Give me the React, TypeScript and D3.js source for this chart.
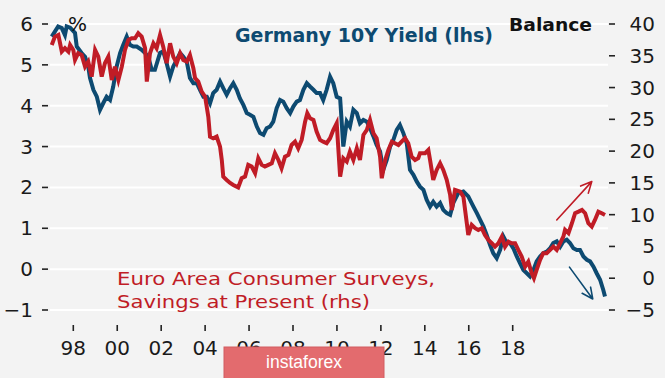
import React from "react";
import * as d3 from "d3";

// Germany 10Y yield (%), left axis
const germanyYield: [number, number][] = [
  [1997.03,5.69],[1997.29,5.94],[1997.44,5.90],[1997.57,5.73],[1997.64,5.94],[1997.78,5.91],[1997.98,5.78],[1998.05,5.45],[1998.25,5.29],[1998.39,5.20],[1998.52,4.96],[1998.59,4.68],[1998.73,4.39],[1998.87,4.22],[1999.00,3.90],[1999.13,4.06],[1999.27,4.22],[1999.41,4.14],[1999.54,4.47],[1999.68,4.96],[1999.82,5.29],[1999.95,5.49],[2000.09,5.69],[2000.22,5.49],[2000.36,5.45],[2000.50,5.45],[2000.70,5.37],[2000.84,5.29],[2000.97,5.20],[2001.11,4.88],[2001.24,4.88],[2001.45,5.29],[2001.58,5.33],[2001.72,5.04],[2001.86,4.71],[2001.99,4.96],[2002.13,5.12],[2002.27,5.29],[2002.40,5.20],[2002.54,5.08],[2002.67,4.68],[2002.81,4.55],[2002.95,4.55],[2003.08,4.39],[2003.22,4.22],[2003.36,4.22],[2003.49,4.06],[2003.62,4.31],[2003.76,4.39],[2003.90,4.59],[2004.03,4.43],[2004.17,4.27],[2004.31,4.43],[2004.44,4.55],[2004.58,4.39],[2004.71,4.18],[2004.85,4.02],[2004.99,3.82],[2005.12,3.78],[2005.26,3.73],[2005.40,3.49],[2005.53,3.33],[2005.67,3.29],[2005.80,3.45],[2005.94,3.49],[2006.07,3.61],[2006.21,3.94],[2006.35,4.14],[2006.48,4.10],[2006.62,3.94],[2006.76,3.82],[2006.89,3.98],[2007.03,4.10],[2007.16,4.14],[2007.30,4.39],[2007.44,4.55],[2007.57,4.47],[2007.71,4.39],[2007.84,4.31],[2007.98,4.31],[2008.11,4.14],[2008.25,4.39],[2008.39,4.71],[2008.52,4.55],[2008.66,4.22],[2008.80,4.18],[2008.93,3.00],[2009.07,3.61],[2009.20,3.49],[2009.34,3.90],[2009.48,3.82],[2009.61,3.57],[2009.75,3.65],[2009.89,3.61],[2010.02,3.45],[2010.16,3.25],[2010.29,3.04],[2010.43,2.88],[2010.56,2.43],[2010.70,2.67],[2010.84,3.00],[2010.97,3.16],[2011.11,3.41],[2011.24,3.53],[2011.38,3.33],[2011.52,3.08],[2011.65,2.43],[2011.79,2.31],[2011.93,2.14],[2012.06,2.02],[2012.20,1.94],[2012.33,1.70],[2012.47,1.53],[2012.60,1.65],[2012.74,1.53],[2012.88,1.62],[2013.01,1.45],[2013.15,1.37],[2013.29,1.33],[2013.42,1.62],[2013.62,1.86],[2013.83,1.90],[2014.03,1.78],[2014.24,1.53],[2014.38,1.37],[2014.51,1.21],[2014.65,1.04],[2014.78,0.84],[2014.92,0.59],[2015.05,0.39],[2015.19,0.27],[2015.33,0.47],[2015.46,0.80],[2015.60,0.64],[2015.73,0.64],[2015.87,0.51],[2016.01,0.31],[2016.14,0.15],[2016.28,-0.02],[2016.42,-0.10],[2016.55,-0.18],[2016.69,-0.02],[2016.82,0.19],[2016.96,0.31],[2017.09,0.39],[2017.23,0.43],[2017.37,0.51],[2017.50,0.64],[2017.64,0.68],[2017.78,0.55],[2017.91,0.68],[2018.05,0.72],[2018.18,0.64],[2018.32,0.51],[2018.46,0.47],[2018.59,0.47],[2018.73,0.31],[2018.87,0.23],[2019.00,0.19],[2019.14,0.06],[2019.27,-0.10],[2019.41,-0.26],[2019.54,-0.51],[2019.61,-0.67],
];

// Euro Area Consumer Surveys, Savings at Present (balance), right axis
const savingsBalance: [number, number][] = [
  [1997.03,36.71],[1997.16,38.01],[1997.30,38.28],[1997.37,36.97],[1997.44,35.65],[1997.57,36.19],[1997.71,35.65],[1997.78,36.71],[1997.91,35.92],[1997.98,34.35],[1998.11,35.40],[1998.25,35.13],[1998.39,33.29],[1998.52,34.08],[1998.66,31.72],[1998.80,35.92],[1998.93,34.86],[1999.07,31.72],[1999.20,33.83],[1999.34,34.86],[1999.48,31.20],[1999.61,33.29],[1999.75,31.20],[1999.89,33.29],[2000.02,35.92],[2000.16,37.49],[2000.29,37.76],[2000.43,37.76],[2000.56,38.55],[2000.70,38.01],[2000.84,36.19],[2000.91,30.93],[2001.04,35.40],[2001.18,36.97],[2001.31,36.19],[2001.45,38.28],[2001.58,36.44],[2001.72,33.83],[2001.86,36.97],[2001.99,34.86],[2002.13,33.83],[2002.27,35.40],[2002.40,34.35],[2002.54,34.08],[2002.67,35.13],[2002.81,33.04],[2002.88,31.47],[2003.01,30.93],[2003.15,29.36],[2003.29,28.57],[2003.42,25.42],[2003.49,22.28],[2003.62,22.03],[2003.76,22.28],[2003.90,20.70],[2003.97,18.61],[2004.03,15.98],[2004.17,15.47],[2004.31,14.99],[2004.44,14.68],[2004.64,14.29],[2004.78,15.73],[2004.92,15.98],[2005.05,17.83],[2005.19,17.56],[2005.33,16.52],[2005.46,18.88],[2005.60,17.83],[2005.73,17.56],[2005.87,17.83],[2006.01,18.09],[2006.14,19.67],[2006.28,18.61],[2006.41,17.31],[2006.55,19.13],[2006.69,19.40],[2006.82,20.97],[2006.96,21.49],[2007.09,20.45],[2007.23,21.76],[2007.37,24.64],[2007.46,25.96],[2007.57,25.17],[2007.71,24.91],[2007.84,23.07],[2007.98,21.76],[2008.11,21.49],[2008.25,21.24],[2008.39,22.03],[2008.52,23.33],[2008.66,24.39],[2008.80,15.98],[2008.93,18.88],[2009.07,18.35],[2009.20,19.92],[2009.34,18.61],[2009.48,20.45],[2009.61,18.61],[2009.75,22.55],[2009.89,23.33],[2010.02,24.91],[2010.16,22.81],[2010.29,22.03],[2010.43,19.13],[2010.50,15.73],[2010.64,18.61],[2010.77,20.19],[2010.91,21.49],[2011.04,21.24],[2011.18,20.97],[2011.31,21.49],[2011.45,22.03],[2011.58,21.24],[2011.72,19.13],[2011.86,18.61],[2011.99,18.88],[2012.06,19.67],[2012.27,19.67],[2012.40,20.19],[2012.47,18.61],[2012.60,15.47],[2012.74,17.04],[2012.88,18.09],[2013.01,17.04],[2013.15,15.47],[2013.29,13.11],[2013.36,10.75],[2013.49,13.89],[2013.70,13.62],[2013.83,12.84],[2013.97,8.65],[2014.03,6.81],[2014.17,8.39],[2014.31,7.87],[2014.44,7.60],[2014.58,7.87],[2014.71,6.81],[2014.85,6.03],[2014.99,5.51],[2015.12,4.97],[2015.26,5.51],[2015.40,6.54],[2015.53,4.97],[2015.67,5.76],[2015.80,5.51],[2015.94,5.51],[2016.07,4.45],[2016.21,3.40],[2016.35,1.83],[2016.48,2.61],[2016.62,0.79],[2016.71,0.00],[2016.82,1.31],[2016.96,2.88],[2017.09,3.93],[2017.23,3.93],[2017.37,4.45],[2017.50,4.97],[2017.64,4.45],[2017.78,5.51],[2017.91,6.54],[2017.98,7.60],[2018.12,7.08],[2018.26,8.65],[2018.39,10.23],[2018.53,10.48],[2018.67,10.75],[2018.80,10.23],[2018.93,8.65],[2019.07,8.12],[2019.20,9.17],[2019.34,10.48],[2019.48,10.23],[2019.61,9.96],
];

const leftTicks = [-1, 0, 1, 2, 3, 4, 5, 6];
const rightTicks = [-5, 0, 5, 10, 15, 20, 25, 30, 35, 40];
const xTickYears = [1998, 2000, 2002, 2004, 2006, 2008, 2010, 2012, 2014, 2016, 2018];
const xTickLabels = ["98", "00", "02", "04", "06", "08", "10", "12", "14", "16", "18"];

// annotation arrows in data units: [startYear, startValue, endYear, endValue]
const redArrow = [2017.64, 9.17, 2019.07, 15.2];   // rhs units
const blueArrow = [2018.16, 0.05, 2019.11, -0.73]; // lhs units

const BLUE = "#0d4a71";
const RED = "#c01c26";
const FONT = "'DejaVu Sans', Verdana, sans-serif";

export default function App() {
  const W = 665, H = 378;
  const x = d3.scaleLinear().domain([1997, 2019.61]).range([51, 605]);
  const xAxis = d3.scaleLinear().domain([1998, 2018]).range([73.3, 512.7]);
  const yL = d3.scaleLinear().domain([-1, 6]).range([310, 24]);
  const yR = d3.scaleLinear().domain([-5, 40]).range([310, 24]);

  const lineL = d3.line<[number, number]>().x(d => x(d[0])).y(d => yL(d[1]));
  const lineR = d3.line<[number, number]>().x(d => x(d[0])).y(d => yR(d[1]));

  const fmt = (v: number) => (v < 0 ? "\u2212" + Math.abs(v) : String(v));

  const arrow = (x1: number, y1: number, x2: number, y2: number, color: string) => {
    const ang = Math.atan2(y2 - y1, x2 - x1);
    const len = 12, spread = 0.45;
    const a1 = ang + Math.PI - spread, a2 = ang + Math.PI + spread;
    const d = `M${x1},${y1}L${x2},${y2}M${x2 + len * Math.cos(a1)},${y2 + len * Math.sin(a1)}L${x2},${y2}L${x2 + len * Math.cos(a2)},${y2 + len * Math.sin(a2)}`;
    return <path d={d} fill="none" stroke={color} strokeWidth={1.6} strokeLinecap="round" strokeLinejoin="round" />;
  };

  return (
    <svg width={W} height={H} style={{ position: "absolute", left: 0, top: 0, background: "#f3f3f3" }} fontFamily={FONT}>
      <rect x={0} y={0} width={W} height={H} fill="#f3f3f3" />
      {leftTicks.map(t => (
        <line key={"g" + t} x1={50} x2={608} y1={yL(t)} y2={yL(t)} stroke="#ffffff" strokeWidth={2} />
      ))}
      {leftTicks.map(t => (
        <g key={"l" + t}>
          <line x1={42} x2={48} y1={yL(t)} y2={yL(t)} stroke="#222" strokeWidth={1.6} />
          <text x={33} y={yL(t) + 7} textAnchor="end" fontSize={20} fill="#1a1a1a">{fmt(t)}</text>
        </g>
      ))}
      {rightTicks.map(t => (
        <g key={"r" + t}>
          <line x1={609} x2={615} y1={yR(t)} y2={yR(t)} stroke="#222" strokeWidth={1.6} />
          <text x={655} y={yR(t) + 7} textAnchor="end" fontSize={20} fill="#1a1a1a">{fmt(t)}</text>
        </g>
      ))}
      {xTickYears.map((yr, i) => (
        <g key={"x" + yr}>
          <line x1={xAxis(yr)} x2={xAxis(yr)} y1={325} y2={331} stroke="#222" strokeWidth={1.6} />
          <text x={xAxis(yr)} y={355} textAnchor="middle" fontSize={20} fill="#1a1a1a">{xTickLabels[i]}</text>
        </g>
      ))}

      <path d={lineL(germanyYield) || ""} fill="none" stroke={BLUE} strokeWidth={4} strokeLinejoin="miter" />
      <path d={lineR(savingsBalance) || ""} fill="none" stroke={RED} strokeWidth={4} strokeLinejoin="miter" />

      {arrow(x(redArrow[0]), yR(redArrow[1]), x(redArrow[2]), yR(redArrow[3]), RED)}
      {arrow(x(blueArrow[0]), yL(blueArrow[1]), x(blueArrow[2]), yL(blueArrow[3]), BLUE)}

      <text x={68} y={31} fontSize={20} fill="#111">%</text>
      <text x={509} y={31} fontSize={18} fontWeight="bold" fill="#111" textLength={83} lengthAdjust="spacingAndGlyphs">Balance</text>
      <text x={235} y={42} fontSize={19} fontWeight="bold" fill={BLUE} textLength={258} lengthAdjust="spacingAndGlyphs">Germany 10Y Yield (lhs)</text>
      <text x={117} y={285} fontSize={18} fill={RED} textLength={318} lengthAdjust="spacingAndGlyphs">Euro Area Consumer Surveys,</text>
      <text x={117} y={308} fontSize={18} fill={RED} textLength={253} lengthAdjust="spacingAndGlyphs">Savings at Present (rhs)</text>

      <rect x={224} y={347} width={160} height={32} fill="#e36b6e" stroke="#d25d60" strokeWidth={1} />
      <text x={304} y={368} textAnchor="middle" fontSize={18} fill="#ffffff" fontFamily="'Liberation Sans', Arial, sans-serif" textLength={76} lengthAdjust="spacingAndGlyphs">instaforex</text>
    </svg>
  );
}
